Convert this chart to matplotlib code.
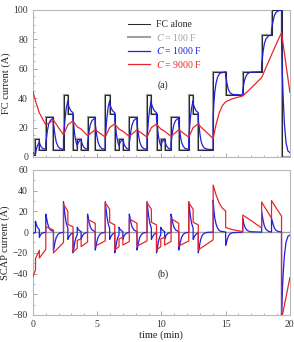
import numpy as np
import matplotlib
matplotlib.use('Agg')
import matplotlib.pyplot as plt
from matplotlib.ticker import MultipleLocator

plt.rcParams['font.family'] = 'Liberation Serif'
plt.rcParams['mathtext.fontset'] = 'stix'

# load profile = FC alone (step edges in min, current in A)
step_t = [0, 0.2, 0.5, 1.0, 1.6, 2.38, 2.72, 3.12,
          3.45, 3.75, 4.25, 4.85, 5.63, 5.97, 6.37,
          6.7, 7.0, 7.5, 8.1, 8.88, 9.22, 9.62,
          9.95, 10.25, 10.75, 11.35, 12.13, 12.47, 12.87,
          14.03, 15.0, 16.33, 17.8, 18.57, 19.35, 20.0]
step_i = [1.5, 12.5, 5, 27, 5, 42, 29.5, 5,
          12.5, 5, 27, 5, 42, 29.5, 5,
          12.5, 5, 27, 5, 42, 29.5, 5,
          12.5, 5, 27, 5, 42, 29.5, 5,
          58, 42, 58, 83, 100, 0]

# FC current with C = 1000 F, (time, current); a repeated time = fast jump at a load step
blue_pts = [
    (0, 3), (0.1, 2.2), (0.2, 1.9), (0.25, 4.5), (0.32, 7), (0.42, 9), (0.5, 10),
    (0.55, 8.6), (0.62, 7.2), (0.72, 6.1), (0.85, 5.5), (1.0, 5.2), (1.0, 9.6),
    (1.05, 12.5), (1.12, 17.5), (1.22, 22), (1.35, 24.8), (1.6, 26.6), (1.6, 22.3),
    (1.65, 19.5), (1.72, 14.7), (1.82, 10), (1.95, 7.2), (2.1, 5.8), (2.38, 5.1), (2.38, 12.5),
    (2.43, 18), (2.5, 26), (2.6, 33.5), (2.72, 38.2), (2.72, 36.5), (2.77, 35), (2.84, 33.4),
    (2.94, 31.5), (3.12, 30.1), (3.12, 25), (3.17, 22), (3.25, 15.5), (3.3, 12.6), (3.37, 9.7),
    (3.45, 7.8),
    (3.5, 9.1), (3.57, 10.4), (3.67, 11.4), (3.75, 11.9), (3.8, 9.9), (3.87, 8.1), (3.97, 6.6),
    (4.1, 5.7), (4.25, 5.2), (4.25, 9.6), (4.3, 12.5), (4.37, 17.5), (4.47, 22), (4.6, 24.8),
    (4.85, 26.6), (4.85, 22.3), (4.9, 19.5), (4.97, 14.7), (5.07, 10), (5.2, 7.2), (5.35, 5.8),
    (5.63, 5.1), (5.63, 12.5), (5.68, 18), (5.75, 26), (5.85, 33.5), (5.97, 38.2), (5.97, 36.5),
    (6.02, 35), (6.09, 33.4), (6.19, 31.5), (6.37, 30.1), (6.37, 25), (6.42, 22), (6.5, 15.5),
    (6.55, 12.6), (6.62, 9.7), (6.7, 7.8),
    (6.75, 9.1), (6.82, 10.4), (6.92, 11.4), (7.0, 11.9), (7.05, 9.9), (7.12, 8.1), (7.22, 6.6),
    (7.35, 5.7), (7.5, 5.2), (7.5, 9.6), (7.55, 12.5), (7.62, 17.5), (7.72, 22), (7.85, 24.8),
    (8.1, 26.6), (8.1, 22.3), (8.15, 19.5), (8.22, 14.7), (8.32, 10), (8.45, 7.2), (8.6, 5.8),
    (8.88, 5.1), (8.88, 12.5), (8.93, 18), (9.0, 26), (9.1, 33.5), (9.22, 38.2), (9.22, 36.5),
    (9.27, 35), (9.34, 33.4), (9.44, 31.5), (9.62, 30.1), (9.62, 25), (9.67, 22), (9.75, 15.5),
    (9.8, 12.6), (9.87, 9.7), (9.95, 7.8),
    (10.0, 9.1), (10.07, 10.4), (10.17, 11.4), (10.25, 11.9), (10.3, 9.9), (10.37, 8.1),
    (10.47, 6.6), (10.6, 5.7), (10.75, 5.2), (10.75, 9.6), (10.8, 12.5), (10.87, 17.5),
    (10.97, 22), (11.1, 24.8), (11.35, 26.6), (11.35, 22.3), (11.4, 19.5), (11.47, 14.7),
    (11.57, 10), (11.7, 7.2), (11.85, 5.8), (12.13, 5.1), (12.13, 12.5), (12.18, 18), (12.25, 26),
    (12.35, 33.5), (12.47, 38.2), (12.47, 36.5), (12.52, 35), (12.59, 33.4), (12.69, 31.5),
    (12.87, 30.1), (12.87, 25), (12.92, 22), (13.0, 15.5), (13.05, 12.6), (13.12, 9.7),
    (13.2, 7.8), (13.35, 6), (13.6, 5.2), (14.03, 5),
    (14.03, 27), (14.08, 36), (14.15, 44), (14.25, 50), (14.38, 54.5), (14.55, 57), (15.0, 57.9),
    (15.0, 54.7), (15.05, 53), (15.12, 49.2), (15.22, 45.7), (15.35, 43.6), (15.55, 42.5),
    (16.33, 42), (16.33, 45), (16.38, 48), (16.45, 51.5), (16.55, 54.3), (16.68, 56.4),
    (16.9, 57.6), (17.8, 58), (17.8, 63), (17.85, 67), (17.92, 72), (18.02, 77.3),
    (18.15, 80.5), (18.35, 82.4), (18.57, 82.9), (18.57, 86.5), (18.62, 89), (18.69, 92.3),
    (18.79, 96.1), (18.92, 98.3), (19.1, 99.4), (19.35, 99.9), (19.35, 80), (19.4, 60),
    (19.47, 42), (19.57, 23), (19.7, 9.7), (19.85, 4), (20.0, 3),
]

# FC current with C = 9000 F
red_t = [0, 0.2, 0.5, 1.0, 1.6, 2.38, 2.72, 3.12, 3.25, 3.45, 3.75, 4.25,
         4.85, 5.63, 5.97, 6.37, 6.5, 6.7, 7.0, 7.5, 8.1, 8.88, 9.22, 9.62,
         9.75, 9.95, 10.25, 10.75, 11.35, 12.13, 12.47, 12.87, 13.0, 14.03,
         14.25, 14.5, 14.75, 15.0, 15.5, 16.33, 17.0, 17.8, 18.2, 18.57,
         19.0, 19.35, 20.0]
red_i = [44.5, 38, 30, 21.8, 25, 15, 22, 24.5, 22.8, 20.5, 19, 14.5,
         18.5, 13.5, 20, 22.5, 21, 19, 17.5, 14, 18.5, 13.5, 20, 22.5,
         21, 19, 17.5, 14, 18.5, 13.5, 20, 22.5, 21, 12.5,
         22, 30, 35, 37.5, 39.5, 41.5, 47, 54, 62, 69.5,
         78, 84.5, 44]

# SCAP current with C = 100 F stays at zero
gray_scap_t = [0, 20]
gray_scap_i = [0, 0]

blue_t = [p[0] for p in blue_pts]
blue_i = [p[1] for p in blue_pts]


def scap(t_fc, i_fc):
    # SCAP current = load current - FC current; load steps give vertical jumps
    tt, ii = [], []
    n = len(t_fc)
    for m in range(n):
        t, f = t_fc[m], i_fc[m]
        j = min(np.searchsorted(step_t, t, side='right') - 1, len(step_i) - 1)
        edge = 0 < t < 20 and t in step_t
        first = m == 0 or t_fc[m - 1] != t
        last = m == n - 1 or t_fc[m + 1] != t
        if edge and first:
            tt.append(t)
            ii.append(step_i[j - 1] - f)
        if not edge or last:
            tt.append(t)
            ii.append(step_i[j] - f)
    return tt, ii


fig = plt.figure(figsize=(2.94, 3.42), dpi=100)
ax1 = fig.add_axes([0.112, 0.541, 0.874, 0.430])
ax2 = fig.add_axes([0.112, 0.079, 0.874, 0.424])

c_black, c_gray, c_blue, c_red = '#2a2a2a', '#a0a0a0', '#1f1fe0', '#e8262a'

ax1.stairs(step_i, step_t, baseline=None, color=c_gray, lw=1.5, label=r'$C$ = 100 F', zorder=2)
ax1.stairs(step_i, step_t, baseline=None, color=c_black, lw=0.75, label='FC alone', zorder=3)
ax1.plot(blue_t, blue_i, color=c_blue, lw=0.9, label=r'$C$ = 1000 F', zorder=4)
ax1.plot(red_t, red_i, color=c_red, lw=0.9, label=r'$C$ = 9000 F', zorder=5)

bt, bi = scap(blue_t, blue_i)
rt, ri = scap(red_t, red_i)
ax2.plot(gray_scap_t, gray_scap_i, color=c_gray, lw=1.0, zorder=2)
ax2.plot(bt, bi, color=c_blue, lw=0.9, zorder=4)
ax2.plot(rt, ri, color=c_red, lw=0.9, zorder=5)

ax1.set_xlim(0, 20)
ax1.set_ylim(0, 100)
ax2.set_xlim(0, 20)
ax2.set_ylim(-80, 60)

for ax in (ax1, ax2):
    ax.xaxis.set_major_locator(MultipleLocator(5))
    ax.xaxis.set_minor_locator(MultipleLocator(1))
    ax.tick_params(which='both', direction='in', colors='#999999', labelcolor='#333333',
                   labelsize=7, top=False, right=False)
    ax.tick_params(which='major', length=3, width=0.6)
    ax.tick_params(which='minor', length=1.5, width=0.5)
    for s in ax.spines.values():
        s.set_color('#b8b8b8')
        s.set_linewidth(0.8)

ax1.yaxis.set_major_locator(MultipleLocator(20))
ax1.yaxis.set_minor_locator(MultipleLocator(5))
ax1.set_xticklabels([])
ax2.yaxis.set_major_locator(MultipleLocator(20))
ax2.yaxis.set_minor_locator(MultipleLocator(10))

ax1.set_ylabel('FC current (A)', fontsize=7.5, color='#222222', labelpad=2)
ax2.set_ylabel('SCAP current (A)', fontsize=7.5, color='#222222', labelpad=2)
ax2.set_xlabel('time (min)', fontsize=7.5, color='#222222', labelpad=1)

ax1.text(10.1, 49, '(a)', fontsize=7, ha='center', va='center', color='#222222')
ax2.text(10.1, -41, '(b)', fontsize=7, ha='center', va='center', color='#222222')

h, l = ax1.get_legend_handles_labels()
order = [1, 0, 2, 3]
leg = ax1.legend([h[i] for i in order], [l[i] for i in order], loc='upper left',
                 bbox_to_anchor=(0.345, 0.975), frameon=False, fontsize=7,
                 handlelength=2.2, handletextpad=0.6, labelspacing=0.25, borderpad=0.2)
for txt, c in zip(leg.get_texts(), [c_black, c_gray, c_blue, c_red]):
    txt.set_color(c)

fig.savefig('out.png', dpi=100)
